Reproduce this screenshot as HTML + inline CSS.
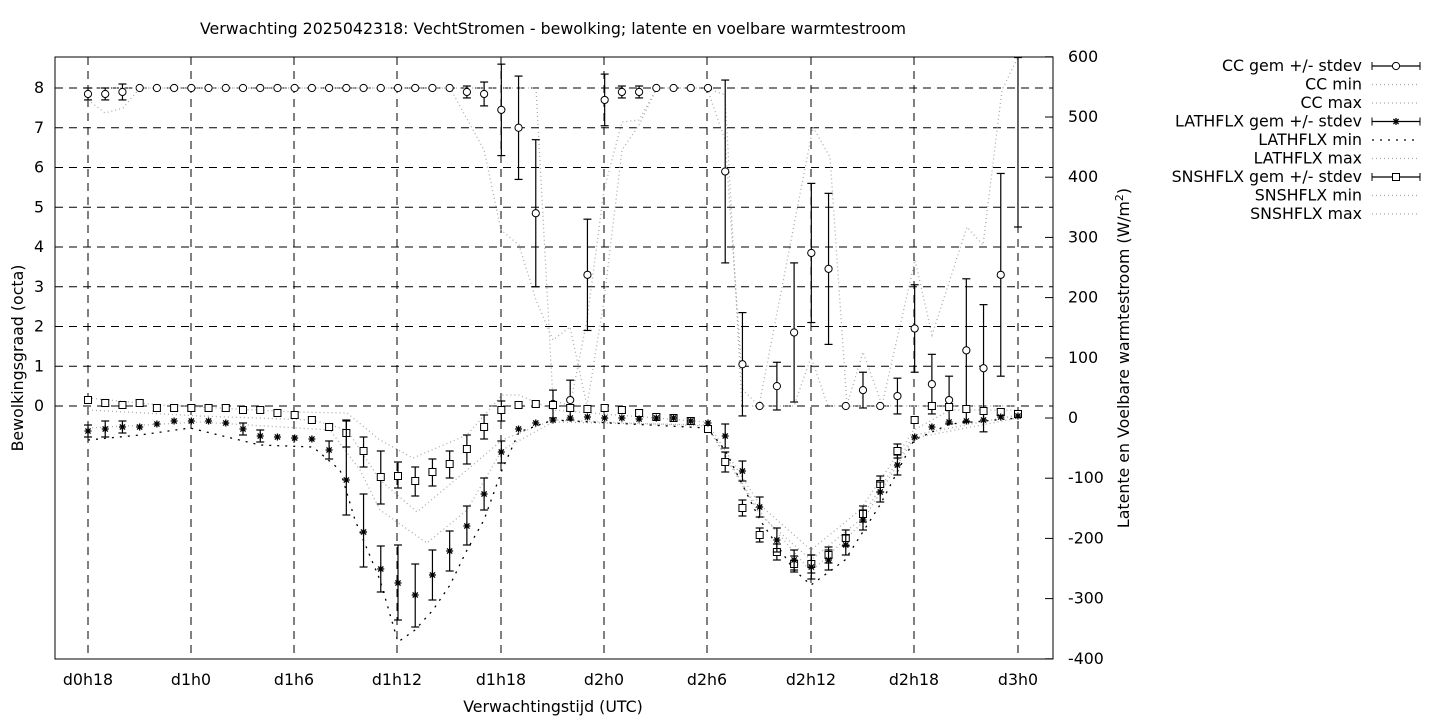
<!DOCTYPE html>
<html><head><meta charset="utf-8"><style>
html,body{margin:0;padding:0;background:#fff;}
svg{display:block;font-family:"DejaVu Sans","Liberation Sans",sans-serif;}
</style></head><body>
<svg id="s" width="1440" height="720" xmlns="http://www.w3.org/2000/svg"></svg>
<script>
const S=document.getElementById('s');let h='';
const F=15.8;
const X0=55,X1=1053,Y0=57,Y1=659;
const xi=i=>88+i*17.222;
const ycc=v=>406-v*39.75;
const yfl=v=>418-v*0.602;
h+=`<text x="553" y="34" font-size="${F}" text-anchor="middle">Verwachting 2025042318: VechtStromen - bewolking; latente en voelbare warmtestroom</text>`;
const xs=[88,191,294,397,501,604,707,811,914,1018],xl=['d0h18','d1h0','d1h6','d1h12','d1h18','d2h0','d2h6','d2h12','d2h18','d3h0'];
xs.forEach((x,k)=>{h+=`<line x1="${x}" y1="${Y0}" x2="${x}" y2="${Y1}" stroke="#000" stroke-dasharray="8,6" stroke-width="1"/>`;
h+=`<text x="${x}" y="685" font-size="${F}" text-anchor="middle">${xl[k]}</text>`;});
for(let v=0;v<=8;v++){const y=ycc(v);h+=`<line x1="${X0}" y1="${y}" x2="${X1}" y2="${y}" stroke="#000" stroke-dasharray="8,6"/>`;
h+=`<text x="44" y="${y+5}" font-size="${F}" text-anchor="end">${v}</text>`;}
for(let v=-400;v<=600;v+=100){const y=yfl(v);h+=`<line x1="${X1-8}" y1="${y}" x2="${X1}" y2="${y}" stroke="#000"/>`;
h+=`<text x="1068" y="${y+5}" font-size="${F}">${v}</text>`;}
h+=`<rect x="${X0}" y="${Y0}" width="${X1-X0}" height="${Y1-Y0}" fill="none" stroke="#000"/>`;
h+=`<text x="553" y="712" font-size="${F}" text-anchor="middle">Verwachtingstijd (UTC)</text>`;
h+=`<text transform="translate(23,358) rotate(-90)" font-size="${F}" text-anchor="middle">Bewolkingsgraad (octa)</text>`;
h+=`<text transform="translate(1129,358) rotate(-90)" font-size="${F}" text-anchor="middle">Latente en Voelbare warmtestroom (W/m<tspan dy="-6" font-size="11">2</tspan><tspan dy="6">)</tspan></text>`;
const pl=(pts,c,da)=>{h+=`<polyline points="${pts.map(p=>p.join(',')).join(' ')}" fill="none" stroke="${c}" stroke-width="1.3" stroke-dasharray="${da}"/>`;};
pl([[88,398],[160,405],[295,412],[347,413],[380,440],[413,458],[467,435],[502,395],[519,395],[553,410],[707,422],[760,505],[811,550],[860,510],[914,430],[950,410],[1018,410]],'#aaa','1,3');
pl([[88,410],[200,416],[313,420],[347,430],[380,480],[417,512],[467,470],[502,440],[553,420],[707,426],[760,515],[811,560],[860,520],[914,435],[1018,415]],'#aaa','1,3');
pl([[88,428],[200,422],[330,430],[360,470],[380,510],[427,543],[467,510],[502,450],[553,422],[707,425],[760,512],[811,572],[860,525],[914,438],[1018,418]],'#aaa','1,3');
pl([[88,440],[140,435],[190,428],[260,445],[313,447],[340,470],[355,520],[380,580],[398,642],[415,630],[433,610],[450,585],[467,550],[484,520],[502,470],[519,432],[553,420],[707,428],[725,450],[760,520],[794,570],[811,585],[845,560],[880,505],[914,440],[950,424],[1018,418]],'#000','2,6');
pl([[88,100],[105,113],[123,108],[140,88],[450,88],[484,150],[501,230],[519,245],[536,300],[553,340],[570,327],[587,406],[604,300],[622,150],[639,125],[657,88],[707,88],[725,95],[742,406],[759,406],[794,406],[811,357],[828,406],[1001,406],[1018,406]],'#aaa','1,3');
pl([[88,88],[519,88],[536,88],[553,400],[570,406],[587,320],[604,190],[622,122],[639,120],[657,88],[707,88],[725,140],[743,390],[759,406],[813,127],[830,157],[847,405],[863,352],[882,405],[915,260],[932,335],[967,227],[983,245],[1002,90],[1018,57]],'#aaa','1,3');
const eb=(x,y1,y2)=>{h+=`<line x1="${x}" y1="${y1}" x2="${x}" y2="${y2}" stroke="#000" stroke-width="1.2"/><line x1="${x-4}" y1="${y1}" x2="${x+4}" y2="${y1}" stroke="#000" stroke-width="1.2"/><line x1="${x-4}" y1="${y2}" x2="${x+4}" y2="${y2}" stroke="#000" stroke-width="1.2"/>`;};
const star=(x,y)=>{const r=3.5,d=2.6;h+=`<path d="M${x-r},${y}H${x+r}M${x},${y-r}V${y+r}M${x-d},${y-d}L${x+d},${y+d}M${x-d},${y+d}L${x+d},${y-d}" stroke="#000" stroke-width="1.3"/>`;};
const cc=[[7.85,.15],[7.85,.15],[7.9,.2],[8,0],[8,0],[8,0],[8,0],[8,0],[8,0],[8,0],[8,0],[8,0],[8,0],[8,0],[8,0],[8,0],[8,0],[8,0],[8,0],[8,0],[8,0],[8,0],[7.9,.15],[7.85,.3],[7.45,1.15],[7.0,1.3],[4.85,1.85],[0.05,.35],[0.15,.5],[3.3,1.4],[7.7,.65],[7.9,.15],[7.9,.15],[8,0],[8,0],[8,0],[8,0],[5.9,2.3],[1.05,1.3],[0,0],[0.5,.6],[1.85,1.75],[3.85,1.75],[3.45,1.9],[0,0],[0.4,.45],[0,0],[0.25,.45],[1.95,1.1],[0.55,.75],[0.15,.6],[1.4,1.8],[0.95,1.6],[3.3,2.55],[null,0]];
cc.forEach((d,i)=>{const x=xi(i);if(i==54){eb(x,57.5,227);return;}
 if(d[1]>0.05)eb(x,ycc(d[0]+d[1]),ycc(d[0]-d[1]));
 h+=`<circle cx="${x}" cy="${ycc(d[0])}" r="3.6" fill="#fff" stroke="#000" stroke-width="1"/>`;});
const sn=[400,403,405,403,408,408,408,408,408,410,410,413,415,420,427,433,451,477,476,481,472,464,449,427,410,405,404,405,408,409,408,410,413,417,418,421,429,462,508,535,552,564,564,555,538,514,484,451,420,406,407,409,411,412,414];
const sne={15:[420,447],16:[437,467],17:[451,504],18:[462,488],19:[467,496],20:[459,486],21:[451,478],22:[435,464],23:[415,439],24:[401,421],37:[452,472],38:[500,516],39:[528,542],40:[544,560],41:[556,572],42:[555,573],43:[547,563],44:[530,546],45:[506,522],46:[476,492],47:[444,458]};
sn.forEach((y,i)=>{const x=xi(i);const e=sne[i]||[y-3,y+3];eb(x,e[0],e[1]);
 h+=`<rect x="${x-3.5}" y="${y-3.5}" width="7" height="7" fill="#fff" stroke="#000" stroke-width="1"/>`;});
const la=[431,429,427,427,424,421,421,421,423,429,436,437,438,439,450,480,532,569,583,595,575,551,526,494,452,429,423,420,418,417,418,418,419,418,418,421,423,436,471,507,540,560,567,560,545,520,492,465,437,427,422,421,420,417,416];
const lae={0:[425,437],1:[421,437],2:[421,433],9:[423,435],10:[430,442],14:[441,459],15:[421,515],16:[494,567],17:[546,592],18:[545,620],19:[564,627],20:[550,600],21:[531,571],22:[506,545],23:[478,510],24:[441,463],37:[424,448],38:[461,481],39:[497,517],40:[528,552],41:[550,570],42:[555,579],43:[550,570],44:[535,555],45:[510,530],46:[482,502],47:[455,475]};
la.forEach((y,i)=>{const x=xi(i);if(lae[i])eb(x,lae[i][0],lae[i][1]);star(x,y);});
const lg=[['CC gem +/- stdev','o'],['CC min','g'],['CC max','g'],['LATHFLX gem +/- stdev','*'],['LATHFLX min','k'],['LATHFLX max','g'],['SNSHFLX gem +/- stdev','s'],['SNSHFLX min','g'],['SNSHFLX max','g']];
lg.forEach((d,k)=>{const y=66+k*18.5;h+=`<text x="1362" y="${y+5}" font-size="${F}" text-anchor="end">${d[0]}</text>`;
 if(d[1]=='g')h+=`<line x1="1372" y1="${y}" x2="1420" y2="${y}" stroke="#aaa" stroke-dasharray="1,3" stroke-width="1.3"/>`;
 else if(d[1]=='k')h+=`<line x1="1372" y1="${y}" x2="1420" y2="${y}" stroke="#000" stroke-dasharray="2,6" stroke-width="1.3"/>`;
 else{h+=`<line x1="1372" y1="${y}" x2="1420" y2="${y}" stroke="#000" stroke-width="1.2"/><line x1="1372" y1="${y-4}" x2="1372" y2="${y+4}" stroke="#000"/><line x1="1420" y1="${y-4}" x2="1420" y2="${y+4}" stroke="#000"/>`;
  if(d[1]=='o')h+=`<circle cx="1396" cy="${y}" r="3.6" fill="#fff" stroke="#000"/>`;
  if(d[1]=='s')h+=`<rect x="1392.5" y="${y-3.5}" width="7" height="7" fill="#fff" stroke="#000"/>`;
  if(d[1]=='*')star(1396,y);}});
S.innerHTML=h;
</script>
</body></html>
